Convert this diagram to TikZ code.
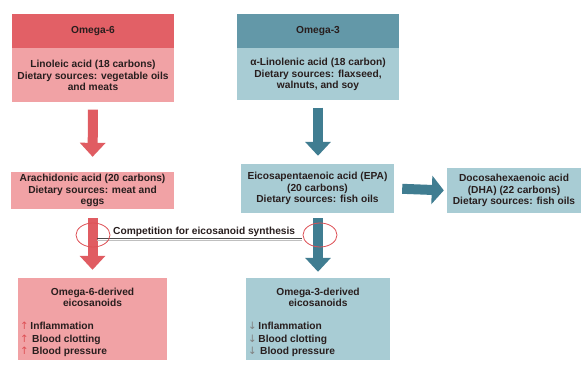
\documentclass[tikz,border=0pt]{standalone}
\usepackage{fontspec}
\setmainfont{Liberation Sans}
\newfontfamily\symfont{DejaVu Sans}
\usetikzlibrary{arrows.meta,shapes.geometric}
\definecolor{redhead}{RGB}{226,96,102}
\definecolor{redbody}{RGB}{241,162,165}
\definecolor{bluehead}{RGB}{99,152,168}
\definecolor{bluebody}{RGB}{168,204,212}
\definecolor{redarrow}{RGB}{224,92,98}
\definecolor{bluearrow}{RGB}{64,125,145}
\definecolor{txt}{RGB}{40,30,30}
\definecolor{ellred}{RGB}{222,80,85}
\begin{document}
\begin{tikzpicture}[x=1pt,y=-1pt,
  font=\fontsize{10.2}{11.5}\selectfont\bfseries, text=txt,
  box/.style 2 args={rectangle, inner sep=0pt, minimum width=#1pt, minimum height=#2pt, align=center},
  fat/.style={line width=10pt, -{Triangle[width=25pt,length=14pt]}},
  ell/.style={ellipse, draw=ellred, line width=0.8pt, minimum width=34pt, minimum height=24pt, inner sep=0pt},
  ttl/.style={align=center, font=\fontsize{10.2}{10.8}\selectfont\bfseries},
  lst/.style={anchor=north west, align=left, inner sep=0pt, font=\fontsize{10.2}{12.5}\selectfont\bfseries},
]
\useasboundingbox (0,0) rectangle (585,367);
\fill[white] (0,0) rectangle (585,367);

% top boxes
\node[box={162}{34}, fill=redhead] (o6h) at (93,31) {Omega-6};
\node[box={162}{54}, fill=redbody, anchor=north] (o6b) at (o6h.south) {Linoleic acid (18 carbons)\\Dietary sources: vegetable oils\\and meats};
\node[box={162}{34}, fill=bluehead] (o3h) at (318,31) {Omega-3};
\node[box={162}{52}, fill=bluebody, anchor=north] (o3b) at (o3h.south) {α-Linolenic acid (18 carbon)\\Dietary sources: flaxseed,\\walnuts, and soy};

% middle boxes
\node[box={163}{37}, fill=redbody] (ara) at (92.5,190.5) {Arachidonic acid (20 carbons)\\Dietary sources: meat and\\eggs};
\node[box={153}{49}, fill=bluebody] (epa) at (317.5,188.5) {Eicosapentaenoic acid (EPA)\\(20 carbons)\\Dietary sources: fish oils};
\node[box={134}{45}, fill=bluebody] (dha) at (514,190.5) {Docosahexaenoic acid\\(DHA) (22 carbons)\\Dietary sources: fish oils};

% bottom boxes
\node[box={149}{82}, fill=redbody] (d6) at (92.5,319) {};
\node[box={144}{82}, fill=bluebody] (d3) at (318,319) {};
\node[ttl] (d6t) at (92.5,297) {Omega-6-derived\\eicosanoids};
\node[ttl] (d3t) at (318,297) {Omega-3-derived\\eicosanoids};
\node[lst] (d6l) at (20,322)
  {{\symfont\mdseries\color{ellred}↑}\,Inflammation\\{\symfont\mdseries\color{ellred}↑}\,\,Blood clotting\\{\symfont\mdseries\color{ellred}↑}\,\,Blood pressure};
\node[lst] (d3l) at (248,322)
  {{\symfont\mdseries\color{black!50}↓}\,Inflammation\\{\symfont\mdseries\color{black!50}↓}\,Blood clotting\\{\symfont\mdseries\color{black!50}↓}\,\,Blood pressure};

% fat arrows
\draw[fat, redarrow, shorten <=7pt, shorten >=15pt] (o6b.south) -- (ara.north);
\draw[fat, bluearrow, shorten <=7pt, shorten >=8pt] (o3b.south) -- (o3b.south |- epa.north);
\draw[fat, redarrow, shorten <=9pt, shorten >=8pt] (ara.south) -- (d6.north);
\draw[fat, bluearrow, shorten <=5pt, shorten >=6pt] (d3.north |- epa.south) -- (d3.north);
\draw[fat, bluearrow, -{Triangle[width=28pt,length=12pt]}, shorten <=8pt, shorten >=3pt] (epa.east) -- (dha.west);

% competition
\coordinate (c1) at (97,238);
\coordinate (c2) at (302,238);
\draw[line width=0.9pt, black!70] (c1) -- (c2);
\draw[line width=0.8pt, black!25] ([yshift=-2.2pt]c1) -- ([yshift=-2.2pt]c2);
\node[ell] (e6) at (93,235) {};
\node[ell] (e3) at (320,235) {};
\node[anchor=base west, inner sep=0pt] (comp) at (113,234) {Competition for eicosanoid synthesis};
\end{tikzpicture}
\end{document}
